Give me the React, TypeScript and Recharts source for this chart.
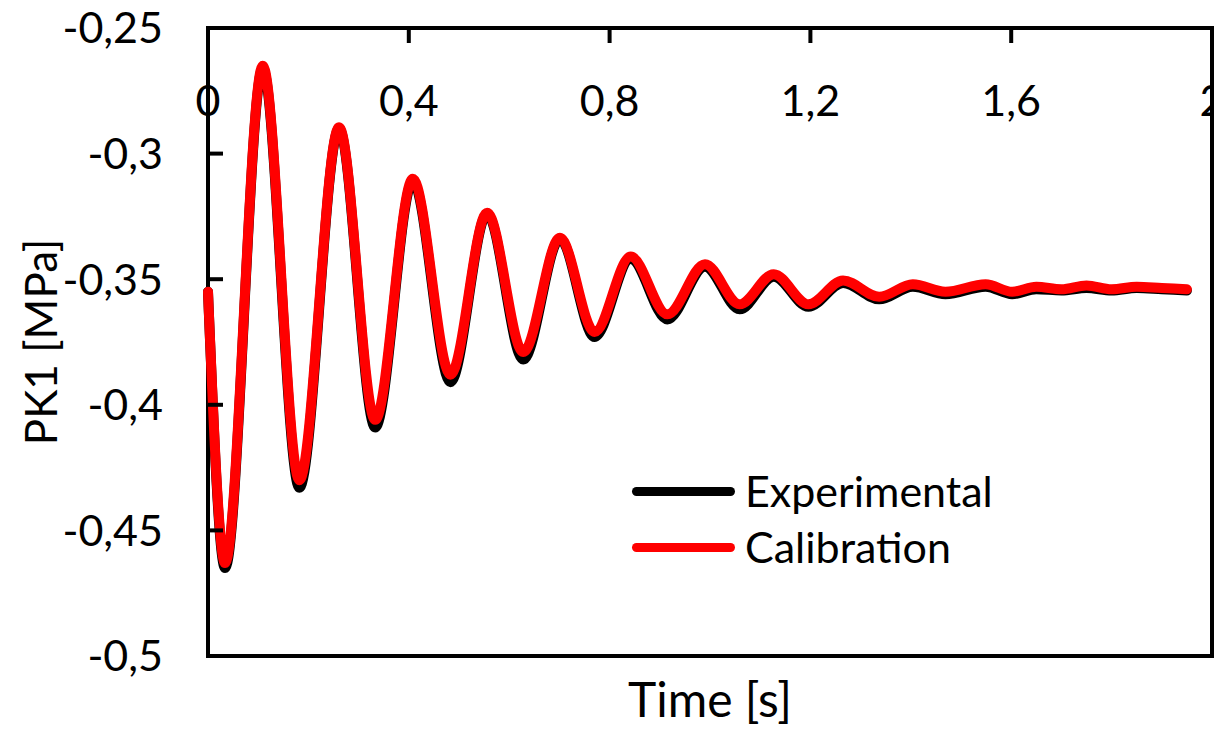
import React from 'react';
import { LineChart, Line, XAxis, YAxis, ReferenceArea, Legend } from 'recharts';

const timeS = [
  0, 0.034, 0.109, 0.182, 0.261, 0.333, 0.408, 0.483, 0.556, 0.628, 0.701, 0.77, 0.842, 0.915, 0.99,
  1.059, 1.127, 1.196, 1.265, 1.337, 1.404, 1.469, 1.549, 1.602, 1.65, 1.7, 1.75, 1.8, 1.85, 1.9, 1.95,
];
const experimental = [
  -0.355, -0.465, -0.266, -0.433, -0.29, -0.409, -0.311, -0.391, -0.324, -0.382, -0.334, -0.373, -0.342,
  -0.366, -0.345, -0.362, -0.349, -0.361, -0.3515, -0.358, -0.353, -0.356, -0.353, -0.356, -0.354, -0.3545,
  -0.3535, -0.3545, -0.3535, -0.354, -0.3545,
];
const calibration = [
  -0.355, -0.463, -0.265, -0.43, -0.2895, -0.406, -0.31, -0.388, -0.3235, -0.379, -0.3335, -0.371, -0.341,
  -0.364, -0.344, -0.36, -0.348, -0.36, -0.3505, -0.357, -0.352, -0.355, -0.352, -0.355, -0.353, -0.354,
  -0.3525, -0.354, -0.353, -0.3535, -0.354,
];
const xTicks = [0, 0.4, 0.8, 1.2, 1.6, 2];
const yTicks = [-0.5, -0.45, -0.4, -0.35, -0.3, -0.25];
const seriesNames = ['Experimental', 'Calibration'];
const seriesColors = ['#000000', '#ff0000'];

const data = timeS.map((t, i) => ({ t, exp: experimental[i], cal: calibration[i] }));

const FONT = 'Lato, "Open Sans", sans-serif';
const FS = 43;
const fmt = (v: number) => String(v).replace('.', ',');

const YTick = (props: any) => {
  const { x, y, payload } = props;
  return (
    <g>
      <line x1={x + 45} x2={x + 60} y1={y} y2={y} stroke="#000" strokeWidth={4} />
      <text x={x} y={y} dy="0.36em" textAnchor="end" fontFamily={FONT} fontSize={FS} fill="#000">
        {fmt(payload.value)}
      </text>
    </g>
  );
};

const LegendContent = () => (
  <div style={{ fontFamily: FONT, fontSize: FS, color: '#000' }}>
    {seriesNames.map((n, i) => (
      <div key={n} style={{ display: 'flex', alignItems: 'center', height: 56 }}>
        <span
          style={{
            display: 'inline-block',
            width: 103,
            height: 9,
            borderRadius: 5,
            background: seriesColors[i],
            marginRight: 10,
          }}
        />
        <span style={{ lineHeight: '56px' }}>{n}</span>
      </div>
    ))}
  </div>
);

export default function App() {
  return (
    <div style={{ width: 1214, height: 726, marginBottom: -8 }}>
      <style>{'html,body{overflow:hidden;}'}</style>
      <LineChart width={1214} height={726} data={data} margin={{ top: 20, right: 10, bottom: 0, left: 0 }}>
        <XAxis
          dataKey="t"
          type="number"
          orientation="top"
          mirror
          height={1}
          domain={[0, 2]}
          ticks={xTicks}
          interval={0}
          tickFormatter={fmt}
          tickSize={15}
          tickMargin={42}
          axisLine={false}
          tickLine={{ stroke: '#000', strokeWidth: 4 }}
          tick={{ fill: '#000', fontFamily: FONT, fontSize: FS }}
        />
        <XAxis
          xAxisId="b"
          dataKey="t"
          type="number"
          orientation="bottom"
          height={78}
          domain={[0, 2]}
          tick={false}
          tickLine={false}
          axisLine={false}
          label={{
            value: 'Time [s]',
            position: 'insideBottom',
            offset: 17,
            style: { fill: '#000', fontFamily: FONT, fontSize: 48 },
          }}
        />
        <YAxis
          type="number"
          width={200}
          domain={[-0.5, -0.25]}
          ticks={yTicks}
          interval={0}
          tickSize={0}
          tickMargin={45}
          axisLine={false}
          tickLine={false}
          tick={<YTick />}
          label={{
            value: 'PK1 [MPa]',
            angle: -90,
            position: 'insideLeft',
            offset: 33,
            style: { textAnchor: 'middle', fill: '#000', fontFamily: FONT, fontSize: 44 },
          }}
        />
        <ReferenceArea x1={0} x2={2} y1={-0.5} y2={-0.25} fill="none" fillOpacity={0} stroke="#000" strokeWidth={4} ifOverflow="visible" />
        <Line
          dataKey="exp"
          name={seriesNames[0]}
          type="monotone"
          stroke={seriesColors[0]}
          strokeWidth={10}
          strokeLinecap="round"
          strokeLinejoin="round"
          dot={false}
          isAnimationActive={false}
        />
        <Line
          dataKey="cal"
          name={seriesNames[1]}
          type="monotone"
          stroke={seriesColors[1]}
          strokeWidth={10}
          strokeLinecap="round"
          strokeLinejoin="round"
          dot={false}
          isAnimationActive={false}
        />
        <Legend
          layout="horizontal"
          verticalAlign="middle"
          align="center"
          content={<LegendContent />}
          wrapperStyle={{ left: 624, top: 455, width: 400, height: 112 }}
        />
      </LineChart>
    </div>
  );
}
